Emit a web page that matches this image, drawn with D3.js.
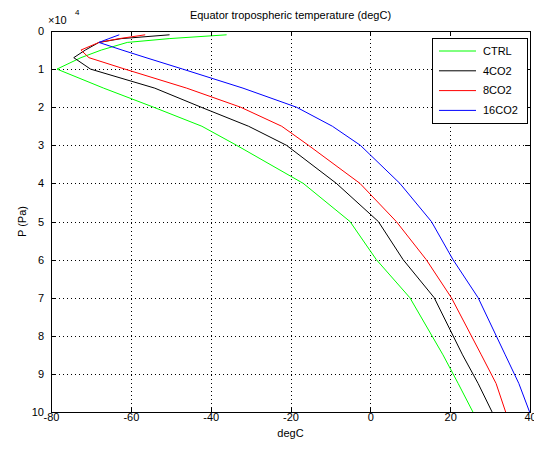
<!DOCTYPE html>
<html>
<head>
<meta charset="utf-8">
<script src="https://cdnjs.cloudflare.com/ajax/libs/d3/7.8.5/d3.min.js"></script>
<style>
  body { margin: 0; background: #fff; }
  svg text { font-family: "Liberation Sans", Arial, Helvetica, sans-serif; fill: #000; }
  .axis text { font-size: 11px; }
  .axis path, .axis line { stroke: #000; shape-rendering: crispEdges; }
  .grid line { stroke: #000; stroke-dasharray: 1,3; shape-rendering: crispEdges; }
</style>
</head>
<body>
<div id="chart"></div>
<script>

// data

var pressure = [1000, 2000, 3000, 5000, 7000, 10000, 15000, 20000, 25000, 30000, 40000, 50000, 60000, 70000, 85000, 92500, 100000];

var ctrl   = [-36, -50.4, -60.9, -67.4, -72.5, -78.5, -66.8, -54.3, -42.2, -33.5, -16.8, -5.1, 1.5, 9.9, 18.2, 22, 25.7];
var co2x4  = [-50.3, -62.4, -68, -71.4, -74.3, -70.1, -54, -42.4, -30.5, -21, -8.5, 2, 8.2, 16, 23.1, 27, 30.5];
var co2x8  = [-56.4, -62.9, -68, -72.5, -70.5, -61.5, -46, -32.5, -22.2, -15.5, -2.6, 6.5, 14, 20.3, 27.8, 31.5, 33.9];
var co2x16 = [-62.9, -65.5, -68, -62.2, -56.2, -47, -31.9, -18.5, -9.5, -2.5, 7.4, 15.3, 20.7, 27, 33.8, 37.2, 39.9];

var seriesNames = ["CTRL", "4CO2", "8CO2", "16CO2"];
var seriesColors = ["#00ff00", "#000000", "#ff0000", "#0000ff"];
var seriesValues = [ctrl, co2x4, co2x8, co2x16];

var xTicks = [-80, -60, -40, -20, 0, 20, 40];
var yTicks = [0, 10000, 20000, 30000, 40000, 50000, 60000, 70000, 80000, 90000, 100000];

// sizes

var width = 534,
    height = 453,
    plotLeft = 51,
    plotRight = 530,
    plotTop = 31,
    plotBottom = 412;

var svg = d3.select("#chart").append("svg")
  .attr("width", width)
  .attr("height", height);

// scales

var x = d3.scaleLinear().domain([-80, 40]).range([plotLeft, plotRight]);
var y = d3.scaleLinear().domain([0, 100000]).range([plotTop, plotBottom]);

// grid

var grid = svg.append("g").attr("class", "grid");

grid.selectAll(".vgrid")
  .data(xTicks.slice(1, -1))
  .enter()
    .append("line")
      .attr("x1", function(d) { return Math.round(x(d)) + 0.5; })
      .attr("x2", function(d) { return Math.round(x(d)) + 0.5; })
      .attr("y1", plotTop)
      .attr("y2", plotBottom);

grid.selectAll(".hgrid")
  .data(yTicks.slice(1, -1))
  .enter()
    .append("line")
      .attr("x1", plotLeft)
      .attr("x2", plotRight)
      .attr("y1", function(d) { return Math.round(y(d)) + 0.5; })
      .attr("y2", function(d) { return Math.round(y(d)) + 0.5; });

// lines

var line = d3.line()
  .x(function(d) { return x(d[0]); })
  .y(function(d) { return y(d[1]); });

svg.selectAll(".series")
  .data(seriesValues)
  .enter()
    .append("path")
      .attr("class", "series")
      .attr("fill", "none")
      .attr("stroke", function(d, i) { return seriesColors[i]; })
      .attr("stroke-width", 1)
      .attr("d", function(d) { return line(d.map(function(t, i) { return [t, pressure[i]]; })); });

// axes with ticks pointing in

svg.append("g")
  .attr("class", "axis")
  .attr("transform", "translate(0," + plotBottom + ")")
  .call(d3.axisBottom(x).tickValues(xTicks).tickSizeInner(-5).tickSizeOuter(0).tickPadding(1)
    .tickFormat(function(d) { return d < 0 ? "-" + Math.abs(d) : d; }));

svg.append("g")
  .attr("class", "axis")
  .attr("transform", "translate(0," + plotTop + ")")
  .call(d3.axisTop(x).tickValues(xTicks).tickSizeInner(-5).tickSizeOuter(0).tickFormat(""));

svg.append("g")
  .attr("class", "axis")
  .attr("transform", "translate(" + plotLeft + ",0)")
  .call(d3.axisLeft(y).tickValues(yTicks).tickSizeInner(-5).tickSizeOuter(0).tickPadding(7)
    .tickFormat(function(d) { return d / 10000; }));

svg.append("g")
  .attr("class", "axis")
  .attr("transform", "translate(" + plotRight + ",0)")
  .call(d3.axisRight(y).tickValues(yTicks).tickSizeInner(-5).tickSizeOuter(0).tickFormat(""));

// exponent label

var expo = svg.append("text")
  .attr("x", 48)
  .attr("y", 24)
  .style("font-size", "11px");
expo.append("tspan").text("\u00d710");
expo.append("tspan")
  .attr("x", 75)
  .attr("y", 15)
  .style("font-size", "8px")
  .style("fill", "#000")
  .text("4");

// title and axis labels

svg.append("text")
  .attr("x", (plotLeft + plotRight) / 2)
  .attr("y", 19)
  .style("text-anchor", "middle")
  .style("font-size", "11px")
  .text("Equator tropospheric temperature (degC)");

svg.append("text")
  .attr("x", (plotLeft + plotRight) / 2)
  .attr("y", 437)
  .style("text-anchor", "middle")
  .style("font-size", "11px")
  .text("degC");

svg.append("text")
  .attr("transform", "translate(26," + (plotTop + plotBottom) / 2 + ") rotate(-90)")
  .style("text-anchor", "middle")
  .style("font-size", "11px")
  .text("P (Pa)");

// legend

var legend = svg.append("g")
  .attr("transform", "translate(432,38)");

legend.append("rect")
  .attr("width", 95)
  .attr("height", 85)
  .attr("fill", "#fff")
  .attr("stroke", "#000")
  .attr("shape-rendering", "crispEdges");

var item = legend.selectAll(".item")
  .data(seriesNames)
  .enter()
    .append("g")
      .attr("class", "item")
      .attr("transform", function(d, i) { return "translate(0," + (13 + i * 19.8) + ")"; });

item.append("line")
  .attr("x1", 7)
  .attr("x2", 44)
  .attr("stroke", function(d, i) { return seriesColors[i]; });

item.append("text")
  .attr("x", 51)
  .attr("dy", "0.35em")
  .style("font-size", "11px")
  .text(function(d) { return d; });

</script>
</body>
</html>
